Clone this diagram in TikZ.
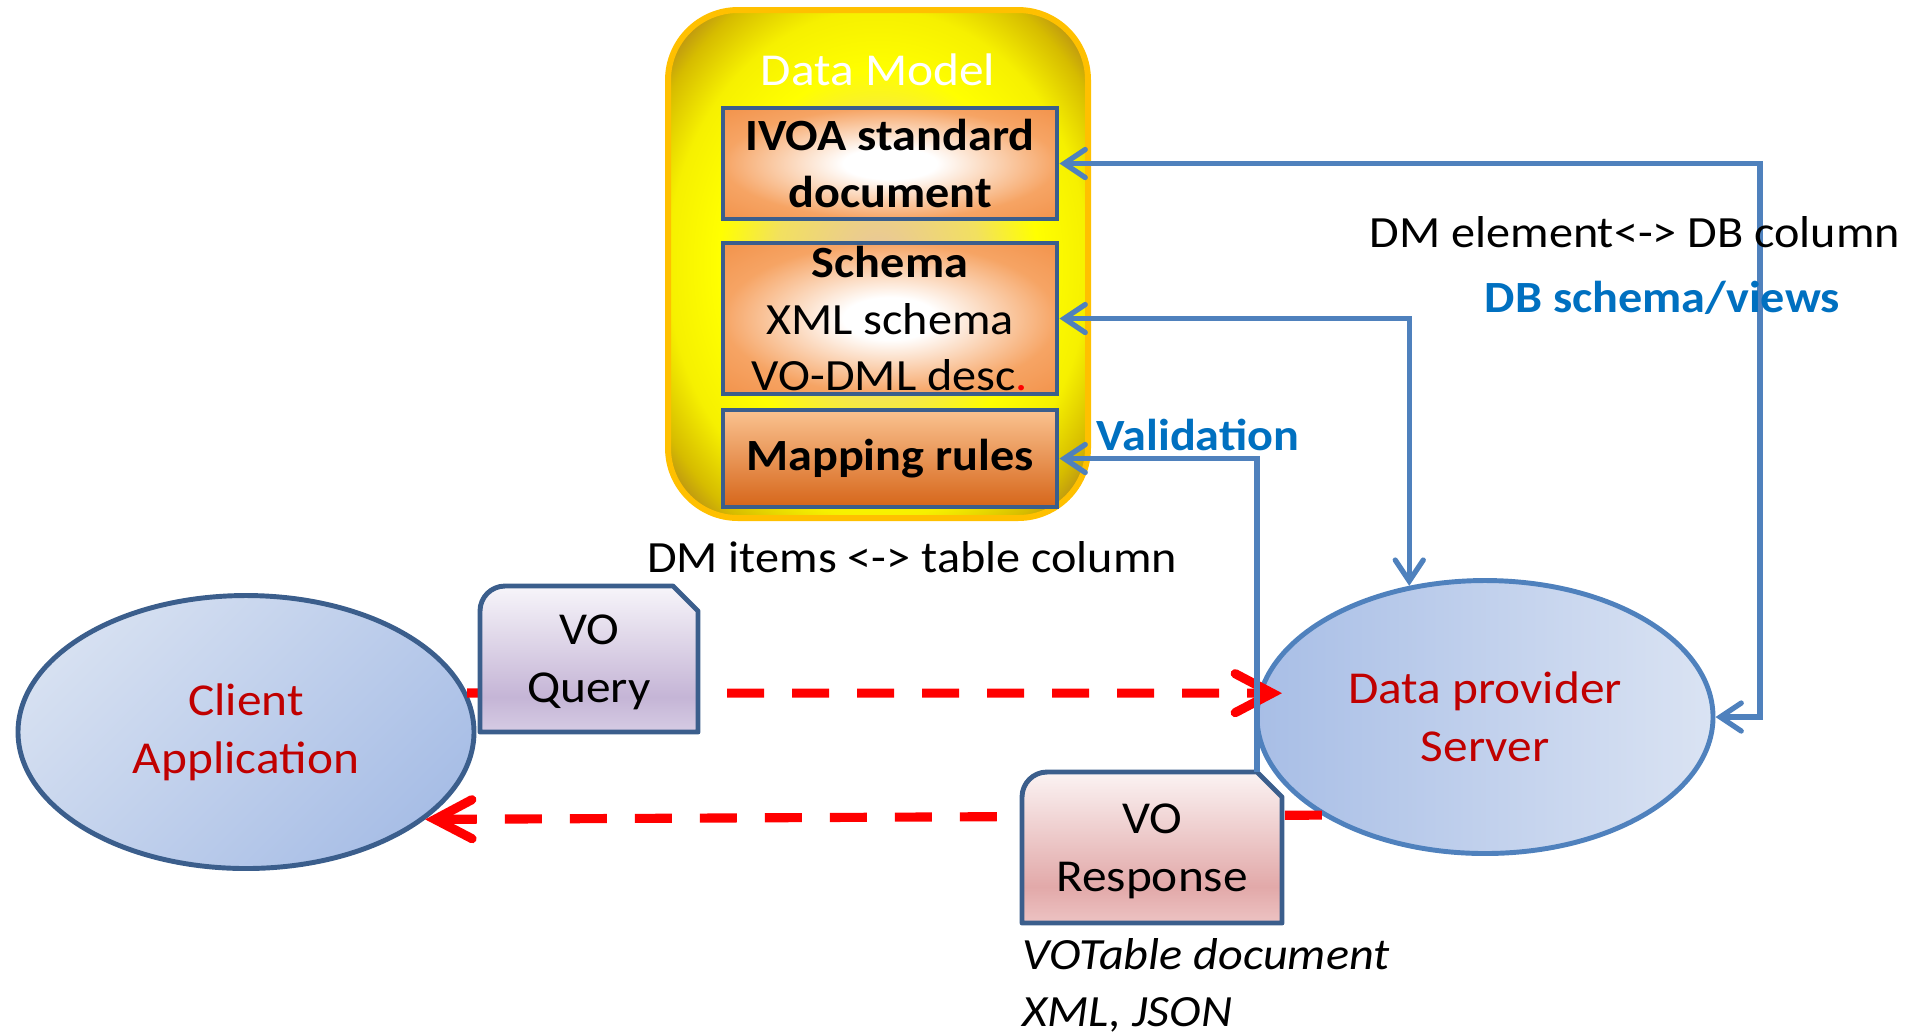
\documentclass[tikz,border=0pt]{standalone}
\usepackage{fontspec}
\setmainfont{Carlito}[FakeStretch=1.08]
\usetikzlibrary{arrows.meta, calc, positioning, shapes.geometric}

\definecolor{linkBlue}{HTML}{4F81BD}
\definecolor{edgeBlue}{HTML}{3B5E8C}
\definecolor{labelBlue}{HTML}{0070C0}
\definecolor{actorRed}{HTML}{C00000}
\definecolor{dmBorder}{HTML}{FFC000}
\definecolor{dmCentre}{HTML}{E8C4A0}
\definecolor{dmMid}{HTML}{F2E060}
\definecolor{dmEdge}{HTML}{F6F000}
\definecolor{dmDark}{HTML}{D6BC00}
\definecolor{dmCorner}{HTML}{A06A28}
\definecolor{boxEdge}{HTML}{F6A464}
\definecolor{boxCorner}{HTML}{F2924A}
\definecolor{mapTop}{HTML}{FAC290}
\definecolor{mapBottom}{HTML}{D6661A}
\definecolor{clientLight}{HTML}{D6E0F1}
\definecolor{clientDark}{HTML}{A8BEE6}
\definecolor{serverLight}{HTML}{DAE3F3}
\definecolor{serverDark}{HTML}{A8BEE6}
\definecolor{qTop}{HTML}{F7F5FA}
\definecolor{qMid}{HTML}{C5B5D6}
\definecolor{qBottom}{HTML}{D6CCE4}
\definecolor{rTop}{HTML}{FBF3F3}
\definecolor{rMid}{HTML}{E2A9A9}
\definecolor{rBottom}{HTML}{EDC3C3}

\pgfdeclareradialshading{dmGlow}{\pgfpoint{0bp}{0bp}}{color(0bp)=(dmCentre); color(12bp)=(dmMid); color(19bp)=(yellow); color(25bp)=(dmEdge); color(30bp)=(dmDark); color(35bp)=(dmCorner); color(50bp)=(dmCorner)}
\pgfdeclareradialshading{boxGlow}{\pgfpoint{0bp}{0bp}}{color(0bp)=(white); color(7bp)=(white); color(25bp)=(boxEdge); color(36bp)=(boxCorner); color(50bp)=(boxCorner)}
\pgfdeclareverticalshading{queryFill}{100bp}{color(0bp)=(qBottom); color(25bp)=(qBottom); color(37bp)=(qMid); color(75bp)=(qTop); color(100bp)=(qTop)}
\pgfdeclareverticalshading{respFill}{100bp}{color(0bp)=(rBottom); color(25bp)=(rBottom); color(37bp)=(rMid); color(75bp)=(rTop); color(100bp)=(rTop)}

\def\bodyfont{\fontsize{12.7}{16.2}\selectfont}
\def\bigfont{\fontsize{13}{16.5}\selectfont}
\def\dashOn{3.7mm}
\def\dashOff{2.8mm}
\def\cut{25}

\begin{document}
\begin{tikzpicture}[x=0.1mm, y=-0.1mm,
    every node/.style={font=\bodyfont, inner sep=0pt},
    dmbox/.style={rectangle, draw=dmBorder, line width=1.7pt, rounded corners=7mm, shade, shading=dmGlow},
    glowbox/.style={rectangle, draw=edgeBlue, line width=1.4pt, minimum width=33.4mm, shade, shading=boxGlow, align=center},
    actor/.style={ellipse, minimum width=45.6mm, minimum height=27.3mm, line width=1.4pt, text=actorRed, align=center, font=\bigfont},
    docline/.style={draw=edgeBlue, line width=1.4pt, line join=round},
    link/.style={draw=linkBlue, line width=1.5pt, >={Straight Barb[length=2.1mm, width=2.8mm, line cap=round]}},
    request/.style={draw=red, line width=2.6pt, dash pattern=on \dashOn off \dashOff, >={Straight Barb[length=3.7mm, width=3.9mm, line cap=round]}}
]
    \useasboundingbox (0,0) rectangle (1913,1034);

    % Draw data model block
    \node (dm) [dmbox, minimum width=42mm, minimum height=50.8mm] at (878,264) {};
    \node (dmtitle) [anchor=base, text=white, font=\bigfont] at (878,85) {Data Model};
    \node (ivoa) [glowbox, minimum height=11.1mm, font=\bodyfont\bfseries] at (890,163.5) {IVOA standard\\document};
    \node (schema) [glowbox, minimum height=15.1mm] at (890,318.5) {\textbf{Schema}\\XML schema\\VO-DML desc\textcolor{red}{.}};
    \node (mapping) [rectangle, draw=edgeBlue, line width=1.4pt, minimum width=33.4mm, minimum height=9.7mm,
        top color=mapTop, bottom color=mapBottom, font=\bodyfont\bfseries] at (890,458.5) {Mapping rules};

    % Draw client and server
    \node (client) [actor, draw=edgeBlue, top color=clientLight, bottom color=clientDark, shading angle=45] at (246,732) {Client\\Application};
    \node (server) [actor, draw=linkBlue, left color=serverDark, right color=serverLight] at (1485,717) {Data provider\\Server};

    % Draw query and response flow
    \draw[request, ->, shorten >=-2.4mm] (client.10) -- (server.174);
    \draw[request, ->] (server.211) -- (client.334);

    % Draw links to the data model
    \coordinate (bus) at (1760,165);
    \draw[link, <->] (ivoa.east) -- (ivoa.east -| bus) |- (server.east);
    \draw[link, <->] (schema.east) -| (server.120);

    % Draw VO query document
    \coordinate (qsw) at (480,732);
    \coordinate (qne) at (698,586);
    \draw[docline, shade, shading=queryFill] (qsw) -- ($(qsw |- qne)+(0,\cut)$) arc[start angle=180, end angle=90, radius=2.5mm]
        -- ($(qne)+(-\cut,0)$) -- ($(qne)+(0,\cut)$) -- (qsw -| qne) -- cycle;
    \node (query) [font=\bigfont, align=center] at (589,662) {VO\\Query};

    % Draw VO response document
    \coordinate (rsw) at (1022,923);
    \coordinate (rne) at (1282,772);
    \draw[docline, shade, shading=respFill] (rsw) -- ($(rsw |- rne)+(0,\cut)$) arc[start angle=180, end angle=90, radius=2.5mm]
        -- ($(rne)+(-\cut,0)$) -- ($(rne)+(0,\cut)$) -- (rsw -| rne) -- cycle;
    \node (resp) [font=\bigfont, align=center] at (1152,851) {VO\\Response};

    % Draw validation link
    \coordinate (rcut) at ($(rne)+(-\cut,0)$);
    \draw[link, ->] (rcut) |- (mapping.east);

    % Draw labels
    \node (dmitems) [anchor=base] at (912,572) {DM items <-> table column};
    \node (valid) [anchor=base west, text=labelBlue, font=\bodyfont\bfseries] at (1096,450) {Validation};
    \node (dmelem) [anchor=base west] at (1369,247) {DM element<-> DB column};
    \node (dbviews) [anchor=base west, text=labelBlue, font=\bodyfont\bfseries] at (1484,312) {DB schema/views};
    \node (votable) [anchor=north west, align=left, font=\bodyfont\itshape] at (1022,938) {VOTable document\\XML, JSON};
\end{tikzpicture}
\end{document}
